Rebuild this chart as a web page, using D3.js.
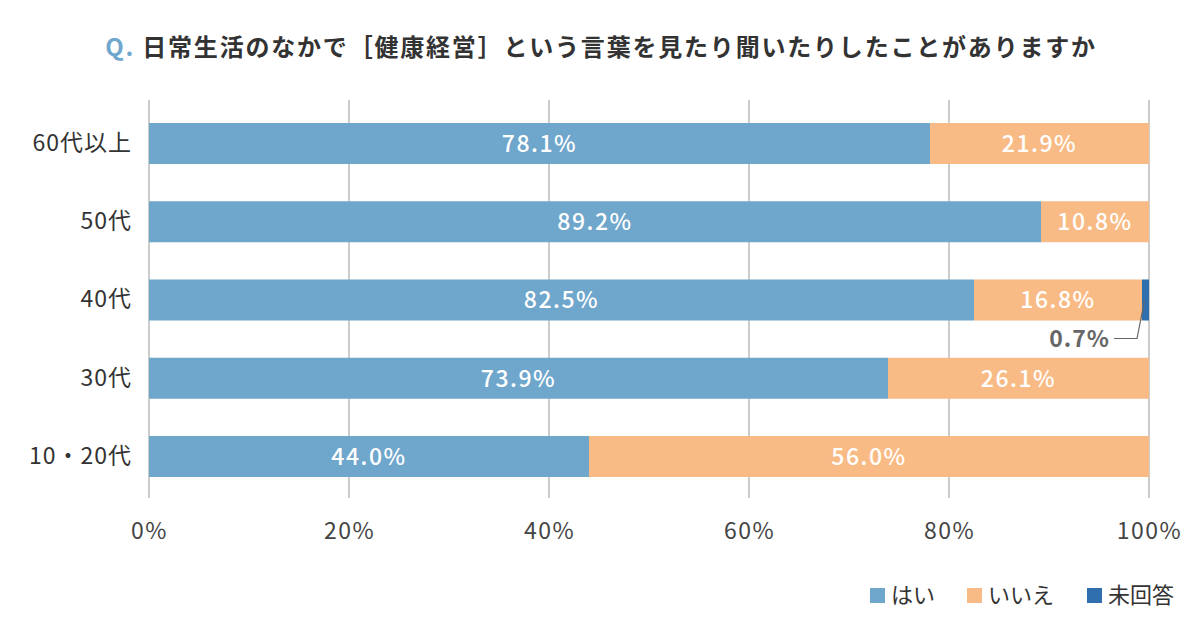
<!DOCTYPE html>
<html><head><meta charset="utf-8">
<script src="https://cdn.jsdelivr.net/npm/d3@7"></script>
<style>
body{margin:0;background:#fff;}
text{font-family:"Noto Sans CJK JP","Noto Sans",sans-serif;}
</style></head>
<body>
<svg id="c" width="1200" height="634"></svg>
<script>
const categories = ["60代以上","50代","40代","30代","10・20代"];
const yes = [78.1, 89.2, 82.5, 73.9, 44.0];
const no = [21.9, 10.8, 16.8, 26.1, 56.0];
const noAnswer = [0, 0, 0.7, 0, 0];
const seriesNames = ["はい","いいえ","未回答"];
const colors = ["#6fa6cc","#f9bb86","#2f6fae"];
const xTicks = [0,20,40,60,80,100];

const svg = d3.select("#c");
const x = d3.scaleLinear().domain([0,100]).range([149,1149]);
const y = d3.scaleBand().domain(categories).range([104.4,495.6]).paddingInner(0.476).paddingOuter(0.238);

// title
const title = svg.append("text").attr("x",601).attr("y",47).attr("dy","0.36em").attr("text-anchor","middle")
  .style("font-size","24px").style("font-weight","bold").style("letter-spacing","1.8px");
title.append("tspan").attr("fill","#6fa6cc").text("Q. ");
title.append("tspan").attr("fill","#333").text("日常生活のなかで［健康経営］という言葉を見たり聞いたりしたことがありますか");

// gridlines
svg.append("g").selectAll("line").data(xTicks).join("line")
  .attr("x1",d=>x(d)).attr("x2",d=>x(d)).attr("y1",100).attr("y2",498)
  .attr("stroke","#999").attr("stroke-width",1);

// x axis labels
const xAxis = d3.axisBottom(x).tickValues(xTicks).tickFormat(d=>d+"%").tickSize(0).tickPadding(0);
const gx = svg.append("g").attr("transform","translate(0,531)").call(xAxis);
gx.select(".domain").remove();
gx.selectAll("text").style("font-size","23px").style("letter-spacing","1.5px").attr("fill","#444").attr("dy","0.36em");

// y axis labels
const yAxis = d3.axisLeft(y).tickSize(0).tickPadding(0);
const gy = svg.append("g").attr("transform","translate(132,0)").call(yAxis);
gy.select(".domain").remove();
gy.selectAll("text").style("font-size","23px").style("letter-spacing","1px").attr("fill","#333");

// stacked data
const rows = categories.map((c,i)=>({cat:c, "はい":yes[i], "いいえ":no[i], "未回答":noAnswer[i]}));
const stacked = d3.stack().keys(seriesNames)(rows);

const g = svg.append("g");
stacked.forEach((s,si)=>{
  g.append("g").selectAll("rect").data(s).join("rect")
    .attr("x",d=>x(d[0])).attr("width",d=>x(d[1])-x(d[0]))
    .attr("y",d=>y(d.data.cat)).attr("height",y.bandwidth())
    .attr("fill",colors[si]);
  if(si<2){
    g.append("g").selectAll("text").data(s.filter(d=>d[1]-d[0]>=2)).join("text")
      .attr("x",d=>x((d[0]+d[1])/2)).attr("y",d=>y(d.data.cat)+y.bandwidth()/2)
      .attr("text-anchor","middle").attr("dy","0.36em")
      .attr("fill","#fff").style("font-size","23px").style("font-weight","500").style("letter-spacing","1.5px")
      .text(d=>(d[1]-d[0]).toFixed(1)+"%");
  }
});

// small value callout
stacked[2].filter(d=>d[1]-d[0]>0).forEach(d=>{
  const yc = y(d.data.cat)+y.bandwidth();
  const xm = x((d[0]+d[1])/2);
  svg.append("polyline")
    .attr("points",`${x(96.5)},${yc+18} ${x(98.8)},${yc+18} ${xm-1},${yc-20}`)
    .attr("fill","none").attr("stroke","#666").attr("stroke-width",1.2);
  svg.append("text").attr("x",x(96.1)).attr("y",yc+18).attr("dy","0.36em")
    .attr("text-anchor","end").attr("fill","#666").style("font-size","23px").style("font-weight","bold").style("letter-spacing","1px")
    .text((d[1]-d[0]).toFixed(1)+"%");
});

// legend
const legX = [870, 967, 1087];
const lg = svg.append("g");
seriesNames.forEach((n,i)=>{
  lg.append("rect").attr("x",legX[i]).attr("y",588).attr("width",15).attr("height",15).attr("fill",colors[i]);
  lg.append("text").attr("x",legX[i]+21).attr("y",595).attr("dy","0.36em")
    .style("font-size","22px").attr("fill","#333").text(n);
});
</script>
</body></html>
